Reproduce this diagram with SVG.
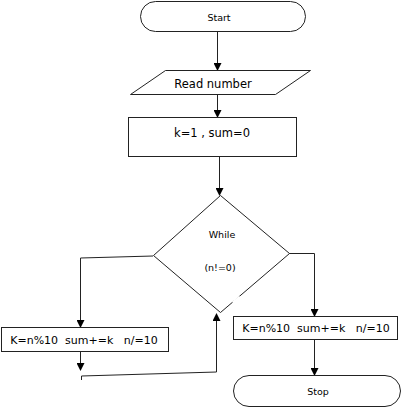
<svg xmlns="http://www.w3.org/2000/svg" width="402" height="410" viewBox="0 0 402 410">
<style>
.s{fill:#fff;stroke:#222;stroke-width:1}
.c{fill:none;stroke:#222;stroke-width:1}
text{font-family:"DejaVu Sans",Verdana,sans-serif;fill:#000;text-anchor:middle;white-space:pre}
.sm{font-size:9.5px}
.md{font-size:11.5px}
.bd{font-size:11px}
</style>
<defs>
<marker id="ah" markerWidth="8" markerHeight="8" refX="7" refY="4" orient="auto" markerUnits="userSpaceOnUse">
<path d="M0,0 L8,4 L0,8 Z" fill="#000"/>
</marker>
</defs>
<rect width="402" height="410" fill="#fff"/>
<g id="connectors">
<line class="c" x1="217.5" y1="32" x2="217.5" y2="70" marker-end="url(#ah)"/>
<line class="c" x1="217.5" y1="94" x2="217.5" y2="117" marker-end="url(#ah)"/>
<line class="c" x1="219.5" y1="156" x2="219.5" y2="195" marker-end="url(#ah)"/>
<polyline class="c" points="153,256 80.5,258 80.5,327" marker-end="url(#ah)"/>
<line class="c" x1="80.5" y1="351" x2="80.5" y2="370" marker-end="url(#ah)"/>
<polyline class="c" points="81.5,380 81.5,376 216.5,372 216.5,314" marker-end="url(#ah)"/>
<polyline class="c" points="289,253.5 314.5,253.5 314.5,316" marker-end="url(#ah)"/>
<line class="c" x1="314.5" y1="339" x2="314.5" y2="375" marker-end="url(#ah)"/>
</g>
<g id="start">
<rect class="s" x="140.5" y="1.5" width="165" height="30" rx="15" ry="15"/>
<text class="sm" x="219" y="21">Start</text>
</g>
<g id="read">
<polygon class="s" points="165.5,70.5 310.5,70.5 275.5,94.5 130.5,94.5"/>
<text class="md" x="213" y="88">Read number</text>
</g>
<g id="init">
<rect class="s" x="128.5" y="117.5" width="168" height="39"/>
<text class="md" x="212" y="137">k=1 , sum=0</text>
</g>
<g id="while">
<polygon class="s" points="220.5,195.5 289.5,253.5 220.5,312.5 153.5,255.5"/>
<polyline points="233,303 240,297" stroke="#fff" stroke-width="3" fill="none"/>
<text class="sm" x="222" y="238">While</text>
<text class="sm" x="220" y="271">(n!=0)</text>
</g>
<g id="bodyLeft">
<rect class="s" x="1.5" y="327.5" width="167" height="24"/>
<text class="bd" x="84" y="344">K=n%10  sum+=k   n/=10</text>
</g>
<g id="bodyRight">
<rect class="s" x="233.5" y="316.5" width="164" height="23"/>
<text class="bd" x="316" y="332">K=n%10  sum+=k   n/=10</text>
</g>
<g id="stop">
<rect class="s" x="233.5" y="375.5" width="167" height="31" rx="15.5" ry="15.5"/>
<text class="sm" x="318" y="395">Stop</text>
</g>
</svg>
